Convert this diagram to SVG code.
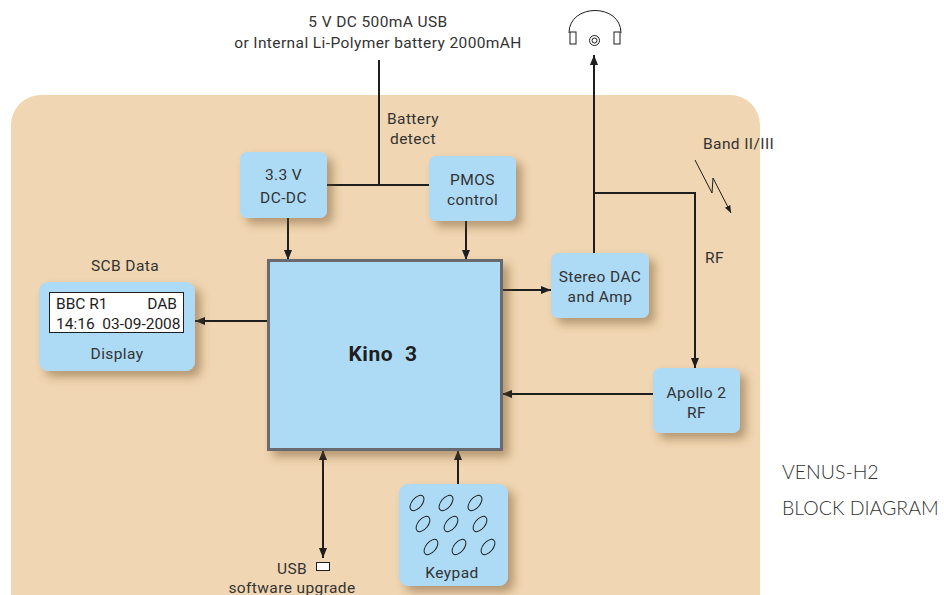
<svg xmlns="http://www.w3.org/2000/svg" width="944" height="595" viewBox="0 0 944 595">
<defs>
<filter id="sh" x="-30%" y="-30%" width="170%" height="170%">
<feDropShadow dx="6" dy="6" stdDeviation="5" flood-color="#6b4a20" flood-opacity="0.45"/>
</filter>
<marker id="ah" viewBox="0 0 10 8" refX="10" refY="4" markerWidth="10" markerHeight="8" markerUnits="userSpaceOnUse" orient="auto-start-reverse">
<path d="M0,0 L10,4 L0,8 Z" fill="#1e1e1e"/>
</marker>
<marker id="ahs" viewBox="0 0 10 8" refX="10" refY="4" markerWidth="8" markerHeight="6" markerUnits="userSpaceOnUse" orient="auto">
<path d="M0,0 L10,4 L0,8 Z" fill="#1e1e1e"/>
</marker>
</defs>
<style>
text{font-family:Roboto,"Liberation Sans",sans-serif;fill:#333;font-size:15.5px;letter-spacing:0.4px;white-space:pre}
.c{text-anchor:middle}
.box{fill:#addaf5;filter:url(#sh)}
.ln{stroke:#1e1e1e;stroke-width:2;fill:none}
.th{stroke:#1e1e1e;stroke-width:1;fill:none}
.big{font-family:Lato,"Liberation Sans",sans-serif;font-weight:300;font-size:19.5px;fill:#333;letter-spacing:0}
</style>
<rect x="0" y="0" width="944" height="595" fill="#ffffff"/>
<rect id="background" x="11" y="95" width="749" height="540" rx="30" fill="#f0d6b2"/>

<text class="c" x="378" y="27">5 V DC 500mA USB</text>
<text class="c" x="378" y="48">or Internal Li-Polymer battery 2000mAH</text>

<g id="headphones" class="th">
<path d="M569,33 C569,3 621,3 621,33"/>
<rect x="570" y="32" width="6" height="12" fill="#fff"/>
<rect x="614" y="32" width="6" height="12" fill="#fff"/>
<circle cx="594.5" cy="40.5" r="5"/>
<circle cx="594.5" cy="40.5" r="2.5"/>
</g>

<g id="connectors">
<path class="ln" d="M379,60 V185"/>
<path class="ln" d="M327,185 H429"/>
<path class="ln" d="M288,218 V260" marker-end="url(#ah)"/>
<path class="ln" d="M466,221 V260" marker-end="url(#ah)"/>
<path class="ln" d="M268,321 H195" marker-end="url(#ah)"/>
<path class="ln" d="M502,290 H551" marker-end="url(#ah)"/>
<path class="ln" d="M594,253 V55" marker-end="url(#ah)"/>
<path class="ln" d="M594,193 H695 V368" marker-end="url(#ah)"/>
<path class="ln" d="M653,394 H502" marker-end="url(#ah)"/>
<path class="ln" d="M458,484 V450" marker-end="url(#ah)"/>
<path class="ln" d="M323,450 V558" marker-start="url(#ah)" marker-end="url(#ah)"/>
<path class="th" d="M695,160 L712,193 L713,178 L731,213" marker-end="url(#ahs)"/>
</g>

<text class="c" x="413" y="124">Battery</text>
<text class="c" x="413" y="144">detect</text>
<text x="703" y="149">Band II/III</text>
<text x="705" y="263">RF</text>
<text class="c" x="125" y="271">SCB Data</text>

<g id="dcdc">
<rect class="box" x="240" y="152" width="87" height="66" rx="7"/>
<text class="c" x="283.5" y="180">3.3 V</text>
<text class="c" x="283.5" y="203">DC-DC</text>
</g>

<g id="pmos">
<rect class="box" x="429" y="156" width="87" height="65" rx="7"/>
<text class="c" x="472.5" y="185">PMOS</text>
<text class="c" x="472.5" y="205">control</text>
</g>

<g id="kino">
<rect x="268.5" y="260.5" width="233" height="189" fill="#addaf5" stroke="#676b70" stroke-width="3" filter="url(#sh)"/>
<text class="c" x="383" y="361" style="font-weight:bold;font-size:21px;fill:#1e1e1e;letter-spacing:0.6px">Kino  3</text>
</g>

<g id="display">
<rect class="box" x="39" y="282" width="156" height="89" rx="9"/>
<rect x="49.5" y="292.5" width="134" height="40" fill="#fff" stroke="#1e1e1e" stroke-width="1"/>
<text x="56" y="309" style="fill:#1e1e1e;letter-spacing:0">BBC R1</text>
<text x="177" y="309" style="text-anchor:end;fill:#1e1e1e;letter-spacing:0">DAB</text>
<text x="56" y="329" style="fill:#1e1e1e;letter-spacing:0">14:16  03-09-2008</text>
<text class="c" x="117" y="359">Display</text>
</g>

<g id="dac">
<rect class="box" x="551" y="253" width="98" height="65" rx="7"/>
<text class="c" x="600" y="282">Stereo DAC</text>
<text class="c" x="600" y="302">and Amp</text>
</g>

<g id="apollo">
<rect class="box" x="653" y="368" width="87" height="65" rx="7"/>
<text class="c" x="696.5" y="398">Apollo 2</text>
<text class="c" x="696.5" y="418">RF</text>
</g>

<g id="keypad">
<rect class="box" x="399" y="484" width="109" height="102" rx="9"/>
<g class="th" stroke="#333">
<ellipse cx="417" cy="503" rx="9" ry="5" transform="rotate(-50 417 503)"/>
<ellipse cx="446" cy="503" rx="9" ry="5" transform="rotate(-50 446 503)"/>
<ellipse cx="475" cy="503" rx="9" ry="5" transform="rotate(-50 475 503)"/>
<ellipse cx="423" cy="524" rx="9" ry="5" transform="rotate(-50 423 524)"/>
<ellipse cx="451" cy="524" rx="9" ry="5" transform="rotate(-50 451 524)"/>
<ellipse cx="480" cy="524" rx="9" ry="5" transform="rotate(-50 480 524)"/>
<ellipse cx="431" cy="547" rx="9" ry="5" transform="rotate(-50 431 547)"/>
<ellipse cx="459" cy="547" rx="9" ry="5" transform="rotate(-50 459 547)"/>
<ellipse cx="488" cy="547" rx="9" ry="5" transform="rotate(-50 488 547)"/>
</g>
<text class="c" x="452" y="578">Keypad</text>
</g>

<g id="usb">
<rect x="316.5" y="562.5" width="13" height="8" fill="#fff" stroke="#1e1e1e" stroke-width="1"/>
<text class="c" x="292" y="574">USB</text>
<text class="c" x="292" y="593">software upgrade</text>
</g>

<text class="big" x="782" y="479">VENUS-H2</text>
<text class="big" x="782" y="515">BLOCK DIAGRAM</text>
</svg>
